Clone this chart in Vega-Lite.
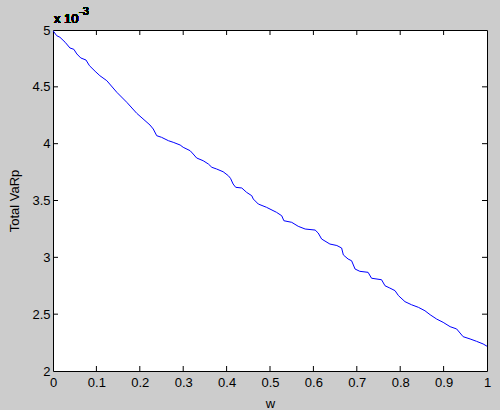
{
  "$schema": "https://vega.github.io/schema/vega-lite/v6.json",
  "width": 434,
  "height": 341,
  "autosize": {"type": "none"},
  "padding": {"left": 53, "top": 30, "right": 13, "bottom": 39},
  "background": "#cccccc",
  "config": {
    "view": {"fill": "white", "stroke": "black", "strokeWidth": 1},
    "font": "Liberation Sans",
    "axis": {
      "domain": false, "grid": false, "ticks": false, "tickSize": 0,
      "labelFont": "Liberation Sans", "labelFontSize": 13, "labelColor": "black",
      "titleFont": "Liberation Sans", "titleFontSize": 13, "titleFontWeight": "normal", "titleColor": "black"
    }
  },
  "datasets": {
    "xt": [{"t": 0.1}, {"t": 0.2}, {"t": 0.3}, {"t": 0.4}, {"t": 0.5}, {"t": 0.6}, {"t": 0.7}, {"t": 0.8}, {"t": 0.9}],
    "yt": [{"t": 0.0025}, {"t": 0.003}, {"t": 0.0035}, {"t": 0.004}, {"t": 0.0045}]
  },
  "data": {"values": [
    {"w": 0.0, "v": 0.004994},
    {"w": 0.0085, "v": 0.00495},
    {"w": 0.016, "v": 0.004936},
    {"w": 0.028, "v": 0.004892},
    {"w": 0.039, "v": 0.004842},
    {"w": 0.048, "v": 0.00483},
    {"w": 0.055, "v": 0.004789},
    {"w": 0.064, "v": 0.004754},
    {"w": 0.076, "v": 0.004736},
    {"w": 0.084, "v": 0.004686},
    {"w": 0.097, "v": 0.004637},
    {"w": 0.108, "v": 0.004598},
    {"w": 0.124, "v": 0.004554},
    {"w": 0.147, "v": 0.004452},
    {"w": 0.170, "v": 0.004364},
    {"w": 0.193, "v": 0.004267},
    {"w": 0.2235, "v": 0.004164},
    {"w": 0.231, "v": 0.004129},
    {"w": 0.239, "v": 0.00407},
    {"w": 0.250, "v": 0.004056},
    {"w": 0.266, "v": 0.004026},
    {"w": 0.277, "v": 0.004012},
    {"w": 0.293, "v": 0.003988},
    {"w": 0.300, "v": 0.003968},
    {"w": 0.316, "v": 0.003938},
    {"w": 0.323, "v": 0.003909},
    {"w": 0.331, "v": 0.003874},
    {"w": 0.346, "v": 0.00385},
    {"w": 0.358, "v": 0.003821},
    {"w": 0.366, "v": 0.003792},
    {"w": 0.377, "v": 0.003777},
    {"w": 0.392, "v": 0.003753},
    {"w": 0.404, "v": 0.003718},
    {"w": 0.409, "v": 0.003695},
    {"w": 0.415, "v": 0.003645},
    {"w": 0.421, "v": 0.003616},
    {"w": 0.435, "v": 0.00361},
    {"w": 0.446, "v": 0.003572},
    {"w": 0.458, "v": 0.003542},
    {"w": 0.4615, "v": 0.003513},
    {"w": 0.473, "v": 0.003469},
    {"w": 0.492, "v": 0.00344},
    {"w": 0.515, "v": 0.003396},
    {"w": 0.527, "v": 0.003366},
    {"w": 0.532, "v": 0.003322},
    {"w": 0.550, "v": 0.003308},
    {"w": 0.565, "v": 0.003273},
    {"w": 0.581, "v": 0.003249},
    {"w": 0.604, "v": 0.00324},
    {"w": 0.611, "v": 0.003214},
    {"w": 0.619, "v": 0.003161},
    {"w": 0.638, "v": 0.003117},
    {"w": 0.654, "v": 0.003104},
    {"w": 0.665, "v": 0.003082},
    {"w": 0.669, "v": 0.003021},
    {"w": 0.680, "v": 0.002985},
    {"w": 0.688, "v": 0.00297},
    {"w": 0.696, "v": 0.002897},
    {"w": 0.707, "v": 0.002877},
    {"w": 0.726, "v": 0.002868},
    {"w": 0.734, "v": 0.002816},
    {"w": 0.757, "v": 0.002803},
    {"w": 0.765, "v": 0.00275},
    {"w": 0.776, "v": 0.00273},
    {"w": 0.788, "v": 0.002707},
    {"w": 0.796, "v": 0.002663},
    {"w": 0.811, "v": 0.00261},
    {"w": 0.826, "v": 0.002583},
    {"w": 0.842, "v": 0.00256},
    {"w": 0.857, "v": 0.00253},
    {"w": 0.869, "v": 0.002495},
    {"w": 0.884, "v": 0.002457},
    {"w": 0.899, "v": 0.002428},
    {"w": 0.915, "v": 0.00239},
    {"w": 0.930, "v": 0.00237},
    {"w": 0.945, "v": 0.002302},
    {"w": 0.961, "v": 0.002282},
    {"w": 0.976, "v": 0.002261},
    {"w": 0.991, "v": 0.002238},
    {"w": 1.0, "v": 0.002218}
  ]},
  "layer": [
    {
      "mark": {"type": "line", "color": "#0000ff", "strokeWidth": 1, "clip": true},
      "encoding": {
        "x": {"field": "w", "type": "quantitative", "scale": {"domain": [0, 1], "nice": false, "zero": false},
          "axis": {"orient": "bottom", "title": "w", "values": [0,0.1,0.2,0.3,0.4,0.5,0.6,0.7,0.8,0.9,1], "labelExpr": "format(datum.value, '~g')", "labelPadding": 5, "titlePadding": 8, "labelFlush": false}},
        "y": {"field": "v", "type": "quantitative", "scale": {"domain": [0.002, 0.005], "nice": false, "zero": false},
          "axis": {"orient": "left", "title": "Total VaRp", "values": [0.002,0.0025,0.003,0.0035,0.004,0.0045,0.005], "labelExpr": "format(datum.value*1000, '~g')", "labelPadding": 3, "titlePadding": 10, "labelFlush": false}}
      }
    },
    {
      "data": {"name": "xt"},
      "mark": {"type": "tick", "orient": "vertical", "color": "black", "size": 10, "thickness": 1, "opacity": 1, "clip": true},
      "encoding": {
        "x": {"field": "t", "type": "quantitative", "axis": null},
        "y": {"datum": 0.002, "type": "quantitative", "axis": null}
      }
    },
    {
      "data": {"name": "xt"},
      "mark": {"type": "tick", "orient": "vertical", "color": "black", "size": 10, "thickness": 1, "opacity": 1, "clip": true},
      "encoding": {
        "x": {"field": "t", "type": "quantitative", "axis": null},
        "y": {"datum": 0.005, "type": "quantitative", "axis": null}
      }
    },
    {
      "data": {"name": "yt"},
      "mark": {"type": "tick", "orient": "horizontal", "color": "black", "size": 10, "thickness": 1, "opacity": 1, "clip": true},
      "encoding": {
        "y": {"field": "t", "type": "quantitative", "axis": null},
        "x": {"datum": 0, "type": "quantitative", "axis": null}
      }
    },
    {
      "data": {"name": "yt"},
      "mark": {"type": "tick", "orient": "horizontal", "color": "black", "size": 10, "thickness": 1, "opacity": 1, "clip": true},
      "encoding": {
        "y": {"field": "t", "type": "quantitative", "axis": null},
        "x": {"datum": 1, "type": "quantitative", "axis": null}
      }
    },
    {
      "mark": {"type": "text", "text": "x 10", "align": "left", "baseline": "alphabetic", "dx": 1, "dy": -7, "fontSize": 13, "font": "Liberation Sans", "color": "black", "clip": false},
      "encoding": {"x": {"datum": 0, "type": "quantitative", "axis": null}, "y": {"datum": 0.005, "type": "quantitative", "axis": null}}
    },
    {
      "mark": {"type": "text", "text": "-3", "align": "left", "baseline": "alphabetic", "dx": 26, "dy": -15, "fontSize": 11, "font": "Liberation Sans", "color": "black", "clip": false},
      "encoding": {"x": {"datum": 0, "type": "quantitative", "axis": null}, "y": {"datum": 0.005, "type": "quantitative", "axis": null}}
    }
  ],
  "resolve": {"axis": {"x": "independent", "y": "independent"}}
}
